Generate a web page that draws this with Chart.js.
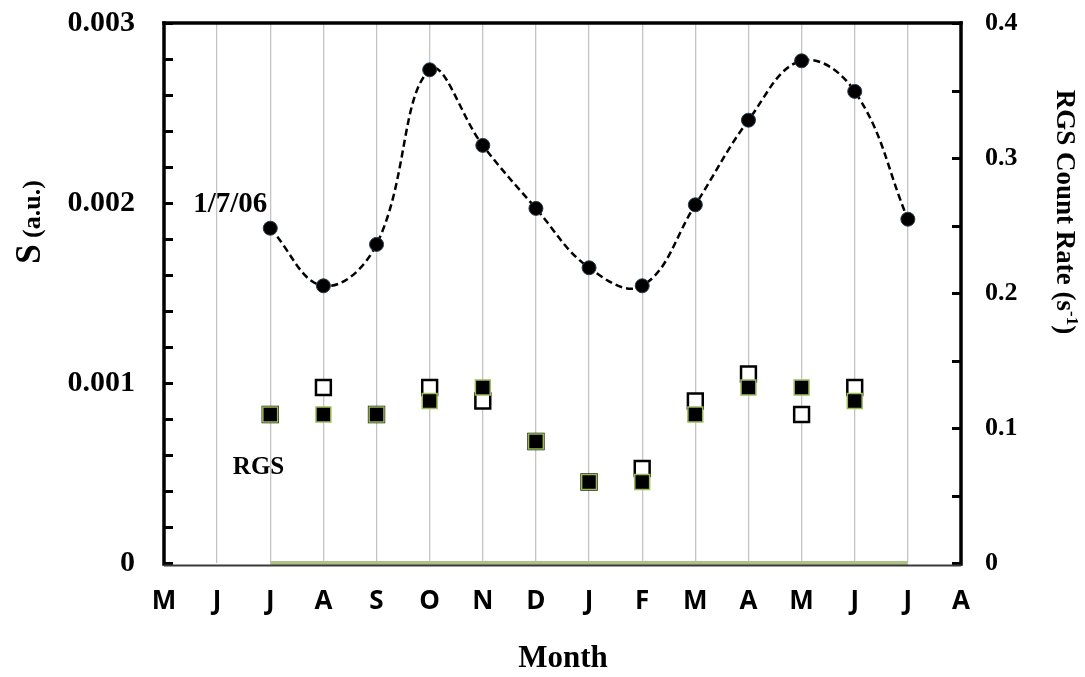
<!DOCTYPE html>
<html>
<head>
<meta charset="utf-8">
<script src="https://cdn.jsdelivr.net/npm/chart.js@4.4.1/dist/chart.umd.min.js"></script>
<style>
  html, body { margin: 0; padding: 0; background: #ffffff; }
  #wrap { width: 1085px; height: 677px; }
</style>
</head>
<body>
<div id="wrap"><canvas id="c" width="1085" height="677"></canvas></div>
<script>
// Month labels along the bottom axis (May 2006 .. Aug 2007)
const months = ['M', 'J', 'J', 'A', 'S', 'O', 'N', 'D', 'J', 'F', 'M', 'A', 'M', 'J', 'J', 'A'];

// S (a.u.), monthly points from July 2006 to July 2007 (left axis)
const sMonthIndex = [2, 3, 4, 5, 6, 7, 8, 9, 10, 11, 12, 13, 14];
const sValues = [0.00186, 0.00154, 0.00177, 0.00274, 0.00232, 0.00197, 0.00164, 0.00154, 0.00199, 0.00246, 0.00279, 0.00262, 0.00191];

// RGS count rate (s^-1), right axis
const rgsMonthIndex = [2, 3, 4, 5, 6, 7, 8, 9, 10, 11, 12, 13];
const rgsFilled = [0.11, 0.11, 0.11, 0.12, 0.13, 0.09, 0.06, 0.06, 0.11, 0.13, 0.13, 0.12];
const rgsOpen = [0.11, 0.13, 0.11, 0.13, 0.12, 0.09, 0.06, 0.07, 0.12, 0.14, 0.11, 0.13];

// zero baseline of the RGS record span
const baseMonthIndex = [2, 14];
const baseValues = [0, 0];

// axis tick values
const leftTicks = [0, 0.001, 0.002, 0.003];
const rightTicks = [0, 0.1, 0.2, 0.3, 0.4];

const SERIF = '"Liberation Serif", "Times New Roman", serif';
const SANS = '"Open Sans", "DejaVu Sans", sans-serif';

const pts = (xs, ys) => xs.map((x, i) => ({ x: x, y: ys[i] }));

// keep the plot box fixed: no extra room reserved for overhanging labels
const noOverhang = s => { s.paddingTop = 0; s.paddingBottom = 0; s.paddingLeft = 0; s.paddingRight = 0; };

// frame, inward tick marks, axis titles and in-plot notes
const decorations = {
  id: 'decorations',
  afterDatasetsDraw(chart) {
    const { ctx, chartArea: a, scales } = chart;
    const yL = scales.y, yR = scales.y2, x = scales.x;
    ctx.save();

    // inward minor/major ticks, left axis
    ctx.strokeStyle = '#000';
    ctx.lineWidth = 3;
    for (let k = 0; k <= 15; k++) {
      const py = Math.round(yL.getPixelForValue(k * 0.0002)) + 0.5;
      ctx.beginPath(); ctx.moveTo(a.left, py); ctx.lineTo(a.left + 9, py); ctx.stroke();
    }
    // inward ticks, right axis
    for (let k = 0; k <= 8; k++) {
      const py = Math.round(yR.getPixelForValue(k * 0.05)) + 0.5;
      ctx.beginPath(); ctx.moveTo(a.right, py); ctx.lineTo(a.right - 9, py); ctx.stroke();
    }

    // plot frame
    ctx.lineCap = 'square';
    ctx.strokeStyle = '#000';
    ctx.lineWidth = 3.5;
    ctx.beginPath(); ctx.moveTo(a.left, a.top); ctx.lineTo(a.right, a.top); ctx.stroke();
    ctx.beginPath(); ctx.moveTo(a.left, a.top); ctx.lineTo(a.left, a.bottom + 1); ctx.stroke();
    ctx.beginPath(); ctx.moveTo(a.right, a.top); ctx.lineTo(a.right, a.bottom + 1); ctx.stroke();
    ctx.strokeStyle = '#3a3a3a';
    ctx.lineWidth = 2;
    ctx.lineCap = 'butt';
    ctx.beginPath(); ctx.moveTo(a.left, a.bottom + 2.5); ctx.lineTo(a.right, a.bottom + 2.5); ctx.stroke();

    ctx.fillStyle = '#000';

    // left axis title: S (a.u.)
    ctx.save();
    ctx.translate(40, 222);
    ctx.rotate(-Math.PI / 2);
    ctx.textBaseline = 'alphabetic';
    ctx.textAlign = 'left';
    const fS = 'bold 35px ' + SERIF, fU = 'bold 26px ' + SERIF;
    ctx.font = fS; const wS = ctx.measureText('S').width;
    ctx.font = fU; const wU = ctx.measureText(' (a.u.)').width;
    let sx = -(wS + wU) / 2;
    ctx.font = fS; ctx.fillText('S', sx, 0);
    ctx.font = fU; ctx.fillText(' (a.u.)', sx + wS, 0);
    ctx.restore();

    // right axis title: RGS Count Rate (s^-1)
    ctx.save();
    ctx.translate(1057, 212);
    ctx.rotate(Math.PI / 2);
    ctx.textBaseline = 'alphabetic';
    ctx.textAlign = 'left';
    const fT = 'bold 27px ' + SERIF, fSup = 'bold 17px ' + SERIF;
    const p1 = 'RGS Count Rate (s', p2 = '-1', p3 = ')';
    ctx.font = fT; const w1 = ctx.measureText(p1).width, w3 = ctx.measureText(p3).width;
    ctx.font = fSup; const w2 = ctx.measureText(p2).width;
    let rx = -(w1 + w2 + w3) / 2;
    ctx.font = fT; ctx.fillText(p1, rx, 0);
    ctx.font = fSup; ctx.fillText(p2, rx + w1, -10);
    ctx.font = fT; ctx.fillText(p3, rx + w1 + w2, 0);
    ctx.restore();

    // bottom axis title
    ctx.font = 'bold 31px ' + SERIF;
    ctx.textAlign = 'center';
    ctx.textBaseline = 'middle';
    ctx.fillText('Month', 563, 659);

    // notes inside the plot
    ctx.textAlign = 'right';
    ctx.font = 'bold 29px ' + SERIF;
    ctx.fillText('1/7/06', x.getPixelForValue(2) - 3, yL.getPixelForValue(0.00199));
    ctx.font = 'bold 25px ' + SERIF;
    ctx.fillText('RGS', x.getPixelForValue(2) + 14, yR.getPixelForValue(0.0705));

    ctx.restore();
  }
};

new Chart(document.getElementById('c'), {
  data: {
    datasets: [
      {
        type: 'scatter',
        label: 'RGS (filled)',
        data: pts(rgsMonthIndex, rgsFilled),
        yAxisID: 'y2',
        pointStyle: 'rect',
        pointRadius: 10.5,
        pointBackgroundColor: '#000000',
        pointBorderColor: '#9bbb59',
        pointBorderWidth: 1.5,
        order: 0
      },
      {
        type: 'scatter',
        label: 'RGS (open)',
        data: pts(rgsMonthIndex, rgsOpen),
        yAxisID: 'y2',
        pointStyle: 'rect',
        pointRadius: 10.5,
        pointBackgroundColor: '#ffffff',
        pointBorderColor: '#000000',
        pointBorderWidth: 2.5,
        order: 1
      },
      {
        type: 'line',
        label: 'S',
        data: pts(sMonthIndex, sValues),
        yAxisID: 'y',
        borderColor: '#000000',
        borderWidth: 2.5,
        borderDash: [7, 4],
        tension: 0.4,
        fill: false,
        pointStyle: 'circle',
        pointRadius: 7,
        pointBackgroundColor: '#000000',
        pointBorderColor: '#2b3d4f',
        pointBorderWidth: 1,
        order: 2
      },
      {
        type: 'line',
        label: 'baseline',
        data: pts(baseMonthIndex, baseValues),
        yAxisID: 'y',
        borderColor: '#adc386',
        borderWidth: 4,
        pointRadius: 0,
        fill: false,
        clip: false,
        order: 3
      }
    ]
  },
  options: {
    responsive: false,
    devicePixelRatio: 1,
    animation: false,
    layout: { padding: { top: 23, left: 0, right: 0, bottom: 0 } },
    plugins: { legend: { display: false }, tooltip: { enabled: false } },
    scales: {
      x: {
        type: 'linear',
        min: 0,
        max: 15,
        afterBuildTicks: s => { s.ticks = months.map((m, i) => ({ value: i })); },
        ticks: {
          callback: v => months[v],
          color: '#000',
          font: { family: SANS, size: 26, weight: 'bold' },
          padding: 23,
          maxRotation: 0,
          autoSkip: false
        },
        grid: {
          drawTicks: false,
          color: c => (c.tick && (c.tick.value === 0 || c.tick.value === 15)) ? 'rgba(0,0,0,0)' : '#c4c4c4',
          lineWidth: 1.3
        },
        border: { display: false },
        afterFit: s => { s.height = 114; noOverhang(s); }
      },
      y: {
        position: 'left',
        min: 0,
        max: 0.003,
        afterBuildTicks: s => { s.ticks = leftTicks.map(v => ({ value: v })); },
        ticks: {
          callback: v => (v === 0 ? '0' : v.toFixed(3)),
          color: '#000',
          font: { family: SERIF, size: 30, weight: 'bold' },
          padding: 29
        },
        grid: { display: false, drawTicks: false },
        border: { display: false },
        afterFit: s => { s.width = 164; noOverhang(s); }
      },
      y2: {
        position: 'right',
        min: 0,
        max: 0.4,
        afterBuildTicks: s => { s.ticks = rightTicks.map(v => ({ value: v })); },
        ticks: {
          callback: v => (v === 0 ? '0' : v.toFixed(1)),
          color: '#000',
          font: { family: SERIF, size: 26, weight: 'bold' },
          padding: 24
        },
        grid: { display: false, drawTicks: false },
        border: { display: false },
        afterFit: s => { s.width = 124; noOverhang(s); }
      }
    }
  },
  plugins: [decorations]
});
</script>
</body>
</html>
